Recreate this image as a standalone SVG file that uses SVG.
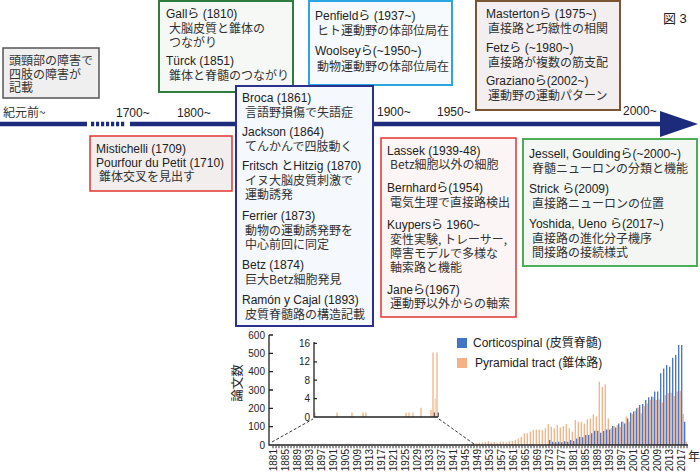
<svg xmlns="http://www.w3.org/2000/svg" width="700" height="473" viewBox="0 0 700 473">
<style>
.t{font-family:"Liberation Sans","Noto Sans CJK JP",sans-serif;font-size:12px;fill:#222}
.j{font-family:"Noto Sans CJK JP",sans-serif;font-size:12px;fill:#333}
.ax{font-family:"Liberation Sans",sans-serif;font-size:10px;fill:#222}
.yr{font-family:"Liberation Sans",sans-serif;font-size:10px;fill:#222;text-anchor:end}
.bx{stroke-width:2}
.tl{stroke:#1d2b7d;stroke-width:4.5;fill:none}
</style>
<rect width="700" height="473" fill="#fff"/>

<g id="connectors">
<path class="tl" d="M0 124H87"/>
<path class="tl" d="M91 124H125" stroke-dasharray="3.2 1.8"/>
<path class="tl" d="M130 124H662"/>
<polygon points="660,111 698,124 660,137" fill="#1d2b7d"/>
</g>

<g id="timeline-labels">
<text class="j" x="3" y="117">紀元前~</text>
<text class="t" x="116" y="117">1700~</text>
<text class="t" x="177" y="117">1800~</text>
<text class="t" x="377" y="116">1900~</text>
<text class="t" x="437" y="116">1950~</text>
<text class="t" x="623" y="115">2000~</text>
<text class="t" x="663" y="23" style="font-size:13px">図 3</text>
</g>

<g id="node-ancient">
<rect x="3" y="48" width="96" height="50" fill="#efefef" stroke="#555" stroke-width="1.5"/>
<text class="j" x="9" y="65">頭頸部の障害で</text>
<text class="j" x="9" y="79">四肢の障害が</text>
<text class="j" x="9" y="92">記載</text>
</g>

<g id="node-gall">
<rect class="bx" x="159" y="1" width="134" height="91" fill="#f6f8f6" stroke="#2e7d3c"/>
<text class="t" x="166" y="18">Gallら (1810)</text>
<text class="j" x="169" y="33">大脳皮質と錐体の</text>
<text class="j" x="169" y="47">つながり</text>
<text class="t" x="166" y="65">Türck (1851)</text>
<text class="j" x="169" y="80">錐体と脊髄のつながり</text>
</g>

<g id="node-penfield">
<rect class="bx" x="309" y="1" width="143" height="84" fill="#f6fafd" stroke="#2ba6e3"/>
<text class="t" x="315" y="20">Penfieldら (1937~)</text>
<text class="j" x="317" y="35">ヒト運動野の体部位局在</text>
<text class="t" x="315" y="55">Woolseyら(~1950~)</text>
<text class="j" x="317" y="71">動物運動野の体部位局在</text>
</g>

<g id="node-masterton">
<rect class="bx" x="476" y="1" width="144" height="109" fill="#f3eff0" stroke="#7b5433"/>
<text class="t" x="486" y="18">Mastertonら (1975~)</text>
<text class="j" x="488" y="33">直接路と巧緻性の相関</text>
<text class="t" x="486" y="52">Fetzら (~1980~)</text>
<text class="j" x="488" y="67">直接路が複数の筋支配</text>
<text class="t" x="486" y="85">Grazianoら(2002~)</text>
<text class="j" x="488" y="100">運動野の運動パターン</text>
</g>

<g id="node-mistichelli">
<rect x="90" y="136" width="142" height="55" fill="#f2eeee" stroke="#e3342f" stroke-width="1.5"/>
<text class="t" x="96" y="153">Mistichelli (1709)</text>
<text class="t" x="96" y="167">Pourfour du Petit (1710)</text>
<text class="j" x="99" y="181">錐体交叉を見出す</text>
</g>

<g id="node-broca">
<rect class="bx" x="236" y="86" width="137" height="240" fill="#f5f8fd" stroke="#2b2f8e"/>
<text class="t" x="242" y="102">Broca (1861)</text>
<text class="j" x="245" y="117">言語野損傷で失語症</text>
<text class="t" x="242" y="136">Jackson (1864)</text>
<text class="j" x="245" y="151">てんかんで四肢動く</text>
<text class="t" x="242" y="170">Fritsch とHitzig (1870)</text>
<text class="j" x="245" y="185">イヌ大脳皮質刺激で</text>
<text class="j" x="245" y="199">運動誘発</text>
<text class="t" x="242" y="220">Ferrier (1873)</text>
<text class="j" x="245" y="235">動物の運動誘発野を</text>
<text class="j" x="245" y="249">中心前回に同定</text>
<text class="t" x="242" y="269">Betz (1874)</text>
<text class="j" x="245" y="284">巨大Betz細胞発見</text>
<text class="t" x="242" y="304">Ramón y Cajal (1893)</text>
<text class="j" x="245" y="319">皮質脊髄路の構造記載</text>
</g>

<g id="node-lassek">
<rect x="381" y="138" width="135" height="179" fill="#fbf5f5" stroke="#e3342f" stroke-width="1.5"/>
<text class="t" x="387" y="155">Lassek (1939-48)</text>
<text class="j" x="390" y="169">Betz細胞以外の細胞</text>
<text class="t" x="387" y="192">Bernhardら(1954)</text>
<text class="j" x="390" y="207">電気生理で直接路検出</text>
<text class="t" x="387" y="229">Kuypersら 1960~</text>
<text class="j" x="390" y="244">変性実験, トレーサー,</text>
<text class="j" x="390" y="258">障害モデルで多様な</text>
<text class="j" x="390" y="272">軸索路と機能</text>
<text class="t" x="387" y="294">Janeら(1967)</text>
<text class="j" x="390" y="308">運動野以外からの軸索</text>
</g>

<g id="node-jessell">
<rect class="bx" x="523" y="139" width="174" height="127" fill="#f3f6f2" stroke="#4daf55"/>
<text class="t" x="529" y="158">Jessell, Gouldingら(~2000~)</text>
<text class="j" x="532" y="173">脊髄ニューロンの分類と機能</text>
<text class="t" x="529" y="193">Strick ら(2009)</text>
<text class="j" x="532" y="208">直接路ニューロンの位置</text>
<text class="t" x="529" y="228">Yoshida, Ueno ら(2017~)</text>
<text class="j" x="532" y="243">直接路の進化分子機序</text>
<text class="j" x="532" y="257">間接路の接続様式</text>
</g>

<g id="chart">
<path fill="none" stroke="#f4b183" stroke-width="1.3" d="M467.3 445V443.5M473.3 445V443.9M476.3 445V443.2M479.3 445V442.8M482.3 445V442.4M485.3 445V442.1M488.3 445V441.3M491.3 445V442.4M494.3 445V442.1M497.3 445V442.8M500.3 445V442.1M503.3 445V441.7M506.3 445V442.4M509.3 445V441.3M512.3 445V441M515.3 445V440M518.3 445V438.4M521.3 445V436.7M524.3 445V433.3M527.3 445V433.3M530.3 445V431.6M533.3 445V430M536.3 445V429.4M539.3 445V429.4M542.3 445V430M545.3 445V428.3M548.3 445V423.9M551.3 445V426.7M554.3 445V428.3M557.3 445V425M560.3 445V427.4M563.3 445V425.9M566.3 445V423.9M569.3 445V428.3M572.3 445V431.6M575.3 445V420.1M578.3 445V421.7M581.3 445V421.7M584.3 445V423.4M587.3 445V419.3M590.3 445V418.4M593.3 445V414.4M596.3 445V416.6M599.3 445V381.7M602.3 445V386.7M605.3 445V384.3M608.3 445V418.4M611.3 445V428.3M614.3 445V425.9M617.3 445V425M620.3 445V426.7M623.3 445V421.7M626.3 445V416.6M629.3 445V421.7M632.3 445V414M635.3 445V410.7M638.3 445V407.4M641.3 445V413.3M644.3 445V405.9M647.3 445V403.4M650.3 445V400.1M653.3 445V397.3M656.3 445V400.1M659.3 445V399.4M662.3 445V402.6M665.3 445V394.9M668.3 445V393.3M671.3 445V392.7M674.3 445V396M677.3 445V391.6M680.3 445V390.7M683.3 445V414M686.3 445V441.7"/>
<path fill="none" stroke="#4472c4" stroke-width="1.3" d="M549.7 445V440M552.7 445V441.7M555.7 445V442.2M558.7 445V441.7M561.7 445V442.2M564.7 445V441.3M567.7 445V441.7M570.7 445V440M573.7 445V441M576.7 445V438.4M579.7 445V436.7M582.7 445V437.3M585.7 445V434.9M588.7 445V434.9M591.7 445V433.3M594.7 445V430.7M597.7 445V430.7M600.7 445V432.7M603.7 445V431.1M606.7 445V429.4M609.7 445V429.4M612.7 445V425.9M615.7 445V427.4M618.7 445V423.4M621.7 445V421.7M624.7 445V423.4M627.7 445V418.4M630.7 445V412.7M633.7 445V411.6M636.7 445V408.3M639.7 445V405M642.7 445V403.9M645.7 445V400.1M648.7 445V397.3M651.7 445V396.6M654.7 445V391.6M657.7 445V391.6M660.7 445V373.3M663.7 445V368.4M666.7 445V365.1M669.7 445V366.7M672.7 445V357.7M675.7 445V355M678.7 445V345.1M681.7 445V345.1M684.7 445V421.7"/>
<!-- main axes -->
<path fill="none" stroke="#222" stroke-width="1.3" d="M269 335V445H688M269 335H273M269 353.3H273M269 371.7H273M269 390H273M269 408.3H273M269 426.7H273"/>
<path fill="none" stroke="#333" stroke-width="2.5" stroke-dasharray="1 2" d="M272.5 447H688"/>
<g class="ax" text-anchor="end">
<text x="265" y="338.5">600</text><text x="265" y="356.8">500</text><text x="265" y="375.2">400</text><text x="265" y="393.5">300</text><text x="265" y="411.8">200</text><text x="265" y="430.2">100</text><text x="265" y="448.5">0</text>
</g>
<text transform="translate(242,383) rotate(-90)" text-anchor="middle" style="font-family:'Noto Sans CJK JP',sans-serif;font-size:12.5px;fill:#222">論文数</text>
<text x="688" y="461" style="font-family:'Noto Sans CJK JP',sans-serif;font-size:12px;fill:#222">年</text>
<!-- year labels -->
<g class="yr">
<text transform="translate(276.5,449) rotate(-90)">1881</text>
<text transform="translate(288.5,449) rotate(-90)">1885</text>
<text transform="translate(300.5,449) rotate(-90)">1889</text>
<text transform="translate(312.5,449) rotate(-90)">1893</text>
<text transform="translate(324.5,449) rotate(-90)">1897</text>
<text transform="translate(336.5,449) rotate(-90)">1901</text>
<text transform="translate(348.5,449) rotate(-90)">1905</text>
<text transform="translate(360.5,449) rotate(-90)">1909</text>
<text transform="translate(372.5,449) rotate(-90)">1913</text>
<text transform="translate(384.5,449) rotate(-90)">1917</text>
<text transform="translate(396.5,449) rotate(-90)">1921</text>
<text transform="translate(408.5,449) rotate(-90)">1925</text>
<text transform="translate(420.5,449) rotate(-90)">1029</text>
<text transform="translate(432.5,449) rotate(-90)">1933</text>
<text transform="translate(444.5,449) rotate(-90)">1937</text>
<text transform="translate(456.5,449) rotate(-90)">1941</text>
<text transform="translate(468.5,449) rotate(-90)">1945</text>
<text transform="translate(480.5,449) rotate(-90)">1949</text>
<text transform="translate(492.5,449) rotate(-90)">1953</text>
<text transform="translate(504.5,449) rotate(-90)">1957</text>
<text transform="translate(516.5,449) rotate(-90)">1961</text>
<text transform="translate(528.5,449) rotate(-90)">1965</text>
<text transform="translate(540.5,449) rotate(-90)">1969</text>
<text transform="translate(552.5,449) rotate(-90)">1973</text>
<text transform="translate(564.5,449) rotate(-90)">1977</text>
<text transform="translate(576.5,449) rotate(-90)">1981</text>
<text transform="translate(588.5,449) rotate(-90)">1985</text>
<text transform="translate(600.5,449) rotate(-90)">1989</text>
<text transform="translate(612.5,449) rotate(-90)">1993</text>
<text transform="translate(624.5,449) rotate(-90)">1997</text>
<text transform="translate(636.5,449) rotate(-90)">2001</text>
<text transform="translate(648.5,449) rotate(-90)">2005</text>
<text transform="translate(660.5,449) rotate(-90)">2009</text>
<text transform="translate(672.5,449) rotate(-90)">2013</text>
<text transform="translate(684.5,449) rotate(-90)">2017</text>
</g>
<!-- inset -->
<path fill="none" stroke="#f4b183" stroke-width="1.3" d="M315 417V412.4M337 417V412.4M352 417V412.4M363 417V412.4M366 417V412.4M406 417V412.4M409 417V412.4M413 417V412.4M421 417V407.8M431 417V410M433 417V352.6M437 417V352.6"/>
<path fill="none" stroke="#f8d3b5" stroke-width="1.5" d="M435.3 417V398.6"/>
<path fill="none" stroke="#555" stroke-width="1.2" d="M434.3 417V412.4M438.3 417V412.4"/>
<path fill="none" stroke="#222" stroke-width="1.3" d="M314 342V417H438M314 343.4H317M314 361.8H317M314 380.2H317M314 398.6H317"/>
<g class="ax" text-anchor="end">
<text x="310" y="347">16</text><text x="310" y="365.3">12</text><text x="310" y="383.7">8</text><text x="310" y="402.1">4</text><text x="310" y="420.5">0</text>
</g>
<path fill="none" stroke="#333" stroke-width="1" stroke-dasharray="3 2" d="M272 442L313 419M439 419L474 444"/>
<!-- legend -->
<rect x="457" y="338" width="10" height="10" fill="#4472c4"/>
<text x="473" y="347" style="font-family:'Liberation Sans','Noto Sans CJK JP',sans-serif;font-size:12px;fill:#222">Corticospinal (皮質脊髄)</text>
<rect x="457" y="358" width="10" height="10" fill="#f4b183"/>
<text x="475" y="367" style="font-family:'Liberation Sans','Noto Sans CJK JP',sans-serif;font-size:12px;fill:#222">Pyramidal tract (錐体路)</text>
</g>
</svg>
